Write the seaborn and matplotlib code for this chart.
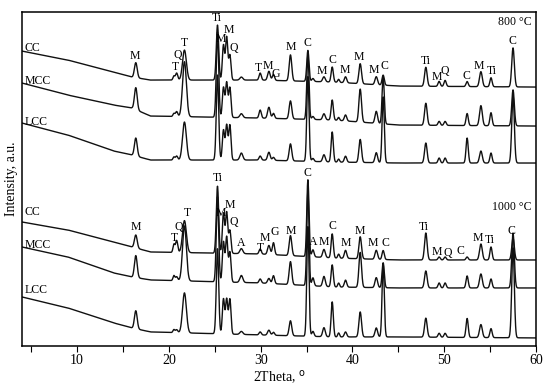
import numpy as np
import pandas as pd
import matplotlib
matplotlib.use("Agg")
import matplotlib.pyplot as plt
import seaborn as sns

# diffraction peak positions (2theta, deg)
peak_pos = [16.4, 20.55, 20.85, 21.7, 25.3, 25.95, 26.3, 26.65, 27.9, 29.95, 30.9, 31.4,
            33.25, 35.15, 35.7, 36.9, 37.8, 38.5, 39.25, 40.85, 42.6, 43.35, 48.0, 49.45,
            50.1, 52.5, 54.0, 55.1, 57.5]
peak_sigma = [0.15, 0.1, 0.12, 0.21, 0.13, 0.12, 0.12, 0.12, 0.16, 0.12, 0.14, 0.12,
              0.14, 0.12, 0.12, 0.14, 0.12, 0.1, 0.13, 0.14, 0.14, 0.12, 0.14, 0.12,
              0.12, 0.12, 0.15, 0.12, 0.14]

# peak heights above background for each sample (offset units)
cc_800 = [15, 4, 7, 30, 55, 35, 43, 25, 3, 7, 9, 6, 26, 31, 3, 5, 15, 3, 6, 20, 8, 10, 19, 5, 6, 5, 15, 9, 39]
mcc_800 = [22, 3, 5, 55, 85, 30, 35, 30, 4, 8, 11, 5, 18, 65, 3, 6, 20, 3, 6, 33, 12, 47, 22, 4, 4, 12, 20, 13, 36]
lcc_800 = [18, 3, 4, 38, 85, 30, 35, 35, 7, 4, 8, 3, 17, 85, 3, 7, 30, 3, 6, 23, 10, 66, 20, 5, 5, 25, 12, 10, 68]
cc_1000 = [13, 8, 12, 32, 67, 40, 41, 23, 5, 5, 9, 12, 20, 77, 7, 8, 24, 4, 8, 22, 9, 9, 27, 3, 3, 3, 16, 13, 22]
mcc_1000 = [22, 5, 4, 55, 85, 40, 45, 30, 7, 4, 5, 8, 23, 95, 8, 10, 22, 4, 7, 35, 10, 25, 17, 5, 5, 12, 14, 9, 55]
lcc_1000 = [18, 3, 3, 40, 85, 35, 35, 35, 3, 3, 5, 3, 15, 110, 5, 9, 35, 4, 5, 25, 9, 73, 19, 4, 4, 19, 13, 9, 90]

# background (amorphous slope + stacking offset) at a few 2theta points
base_x = [4, 9, 14, 16, 18, 30, 38, 45, 60]
cc_800_bg = [295, 286, 274, 269, 266, 266, 264, 260, 259]
mcc_800_bg = [263, 251, 241, 238, 230, 228, 226, 221, 220]
lcc_800_bg = [223, 211, 195, 191, 186, 186, 184, 183, 183]
cc_1000_bg = [124, 116, 104, 99, 94, 92, 88, 86, 86]
mcc_1000_bg = [99, 89, 73, 69, 66, 63, 59, 58, 58]
lcc_1000_bg = [49, 38, 23, 18, 14, 11, 9, 9, 8]

samples = {
    "CC 800": (cc_800, cc_800_bg),
    "MCC 800": (mcc_800, mcc_800_bg),
    "LCC 800": (lcc_800, lcc_800_bg),
    "CC 1000": (cc_1000, cc_1000_bg),
    "MCC 1000": (mcc_1000, mcc_1000_bg),
    "LCC 1000": (lcc_1000, lcc_1000_bg),
}

# phase labels: (text, 2theta, height)
labels_800 = [("M", 16.3, 290), ("T", 20.75, 279), ("Q", 21.0, 291), ("T", 21.65, 303),
              ("Ti", 25.24, 328), ("M", 25.68, 307), ("M", 26.55, 316), ("Q", 27.09, 298),
              ("T", 29.8, 278), ("M", 30.75, 280), ("G", 31.6, 272), ("M", 33.27, 299),
              ("C", 35.12, 303), ("M", 36.68, 275), ("C", 37.77, 286), ("M", 39.19, 276),
              ("M", 40.71, 289), ("M", 42.34, 276), ("C", 43.54, 280), ("Ti", 47.98, 285),
              ("M", 49.17, 269), ("Q", 50.08, 275), ("C", 52.37, 270), ("M", 53.79, 280),
              ("Ti", 55.17, 275), ("C", 57.45, 305)]
labels_1000 = [("M", 16.42, 119), ("T", 20.56, 108), ("Q", 21.1, 119), ("T", 21.97, 133),
               ("Ti", 25.35, 168), ("M", 25.68, 133), ("M", 26.66, 141), ("Q", 27.09, 124),
               ("A", 27.86, 103), ("T", 29.93, 98), ("M", 30.5, 108), ("G", 31.5, 114),
               ("M", 33.27, 115), ("C", 35.15, 173), ("A", 35.7, 104), ("M", 36.9, 104),
               ("C", 37.84, 120), ("M", 39.29, 103), ("M", 40.82, 115), ("M", 42.23, 103),
               ("C", 43.64, 103), ("Ti", 47.79, 119), ("M", 49.17, 94), ("Q", 50.4, 93),
               ("C", 51.79, 95), ("M", 53.67, 108), ("Ti", 54.98, 106), ("C", 57.38, 115)]
sample_names = [("CC", 298), ("MCC", 265), ("LCC", 224), ("CC", 134), ("MCC", 101), ("LCC", 56)]
temps = [("800 °C", 324), ("1000 °C", 139)]

two_theta = np.arange(4, 60.01, 0.02)
pos = np.array(peak_pos)[:, None]
sig = np.array(peak_sigma)[:, None]
shape = np.exp(-0.5 * ((two_theta[None, :] - pos) / sig) ** 2)

frames = []
for name, (heights, bg) in samples.items():
    inten = np.interp(two_theta, base_x, bg) + (np.array(heights)[:, None] * shape).sum(axis=0)
    frames.append(pd.DataFrame({"two_theta": two_theta, "intensity": inten, "sample": name}))
df = pd.concat(frames, ignore_index=True)

sns.set_theme(style="ticks")
plt.rcParams["font.family"] = ["Liberation Serif", "DejaVu Serif"]

fig = plt.figure(figsize=(5.5, 3.9), dpi=100)
ax = fig.add_axes([0.04, 0.113, 0.9345, 0.856])

sns.lineplot(data=df, x="two_theta", y="intensity", hue="sample",
             palette={k: "#111111" for k in samples}, estimator=None, sort=False,
             linewidth=1.0, legend=False, ax=ax)

for txt, x, y in labels_800 + labels_1000:
    ax.text(x, y, txt, ha="center", va="center", fontsize=8.5, color="black")
for txt, y in sample_names:
    ax.text(4.3, y, txt, ha="left", va="center", fontsize=8.5, color="black")
for txt, y in temps:
    ax.text(59.5, y, txt, ha="right", va="center", fontsize=8.5, color="black")

ax.set_xlim(4, 60)
ax.set_ylim(0, 334)
ax.set_yticks([])
ax.set_xticks([10, 20, 30, 40, 50, 60])
ax.set_xticks([5, 15, 25, 35, 45, 55], minor=True)
ax.tick_params(axis="x", which="both", direction="out", length=4, width=0.8,
               labelsize=10, pad=2, colors="black")
for sp in ax.spines.values():
    sp.set_visible(True)
    sp.set_linewidth(1.1)
    sp.set_color("black")
ax.set_xlabel("2Theta, $^{\\mathrm{o}}$", fontsize=10, labelpad=1, color="black")
ax.set_ylabel("Intensity, a.u.", fontsize=10, labelpad=3, color="black")

fig.savefig("out.png", dpi=100)
